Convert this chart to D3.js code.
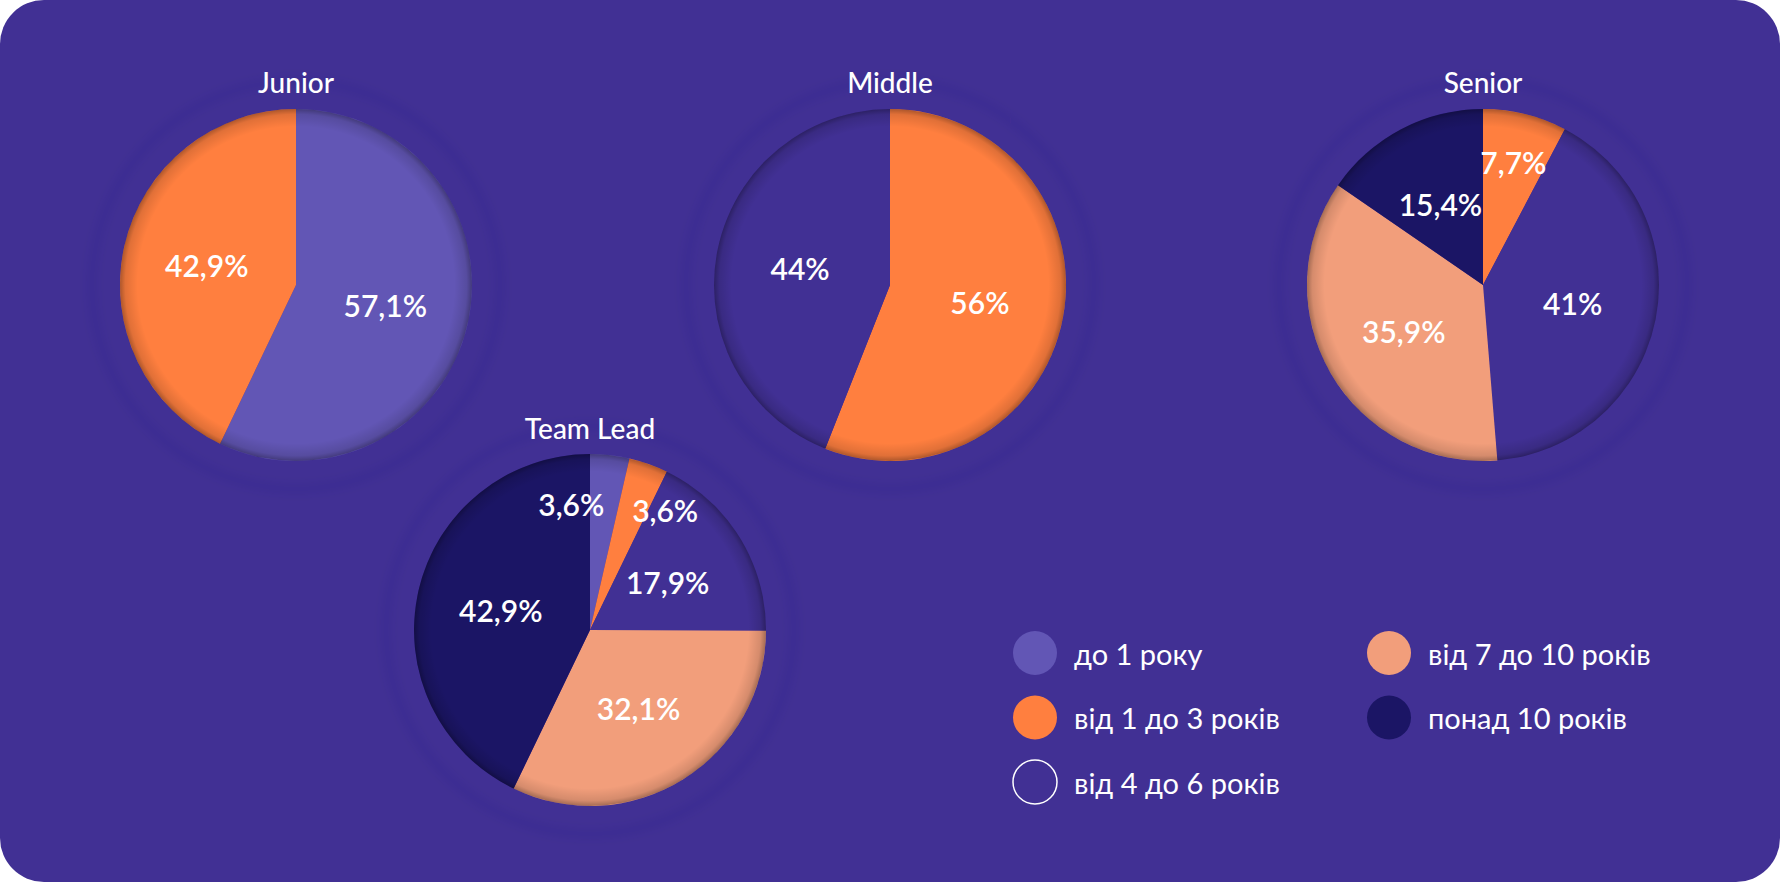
<!DOCTYPE html>
<html>
<head>
<meta charset="utf-8">
<script src="https://cdn.jsdelivr.net/npm/d3@7"></script>
<style>
  body { margin: 0; background: #ffffff; }
  svg { display: block; font-family: "Lato", "Noto Sans", sans-serif; }
</style>
</head>
<body>
<div id="chart"></div>
<script>
// categories (experience) and groups
const categories = ["до 1 року", "від 1 до 3 років", "від 4 до 6 років", "від 7 до 10 років", "понад 10 років"];
const groups = ["Junior", "Middle", "Senior", "Team Lead"];

// shares per group, in category order (percent)
const juniorValues = [57.1, 42.9, 0, 0, 0];
const middleValues = [0, 56, 44, 0, 0];
const seniorValues = [0, 7.7, 41, 35.9, 15.4];
const teamLeadValues = [3.6, 3.6, 17.9, 32.1, 42.9];

const colors = ["#6256b5", "#ff7f3f", "#413094", "#f29e7b", "#1b1565"];
const bg = "#413094";

const W = 1780, H = 882;
const R = 176;

// where each pie sits
const layout = {
    "Junior":    { cx: 296, cy: 285, ty: 82 },
    "Middle":    { cx: 890, cy: 285, ty: 82 },
    "Senior":    { cx: 1483, cy: 285, ty: 82 },
    "Team Lead": { cx: 590, cy: 630, ty: 428 }
};
const valuesByGroup = {
    "Junior": juniorValues,
    "Middle": middleValues,
    "Senior": seniorValues,
    "Team Lead": teamLeadValues
};

const color = d3.scaleOrdinal().domain(categories).range(colors);
const fmt = v => String(v).replace(".", ",") + "%";

const svg = d3.select("#chart").append("svg")
    .attr("width", W)
    .attr("height", H);

const defs = svg.append("defs");

// inner rim shadow for the pies
const rim = defs.append("radialGradient").attr("id", "rim");
rim.append("stop").attr("offset", "0.9").attr("stop-color", "#000").attr("stop-opacity", 0);
rim.append("stop").attr("offset", "0.97").attr("stop-color", "#000").attr("stop-opacity", 0.12);
rim.append("stop").attr("offset", "1").attr("stop-color", "#000").attr("stop-opacity", 0.32);

defs.append("filter").attr("id", "halo").attr("x", "-30%").attr("y", "-30%").attr("width", "160%").attr("height", "160%")
    .append("feGaussianBlur").attr("stdDeviation", 5);

svg.append("rect")
    .attr("width", W)
    .attr("height", H)
    .attr("rx", 44)
    .attr("fill", bg);

const pie = d3.pie().sort(null).value(d => d.value);
const arc = d3.arc().innerRadius(0).outerRadius(R);

groups.forEach(name => {
    const pos = layout[name];
    const data = categories.map((c, i) => ({ cat: c, value: valuesByGroup[name][i] }));
    const arcs = pie(data).filter(d => d.data.value > 0);

    const g = svg.append("g").attr("transform", `translate(${pos.cx},${pos.cy})`);

    // faint halo around each pie
    g.append("circle")
        .attr("r", R + 28)
        .attr("fill", "none")
        .attr("stroke", "#2a1f78")
        .attr("stroke-opacity", 0.14)
        .attr("stroke-width", 5)
        .attr("filter", "url(#halo)");

    g.selectAll("path.slice")
        .data(arcs)
        .join("path")
        .attr("class", "slice")
        .attr("d", arc)
        .attr("fill", d => color(d.data.cat));

    g.append("circle")
        .attr("r", R)
        .attr("fill", "url(#rim)");

    // labels
    const small = arcs.filter(d => d.data.value < 5);
    g.selectAll("text.lbl")
        .data(arcs)
        .join("text")
        .attr("class", "lbl")
        .attr("transform", d => {
            const k = d.data.value < 10 ? 0.72 : 0.52;
            const a = d3.arc().innerRadius(R * k).outerRadius(R * k);
            const [x, y] = a.centroid(d);
            return `translate(${x},${y})`;
        })
        .attr("text-anchor", d => {
            const j = small.indexOf(d);
            if (j < 0) return "middle";
            return j % 2 === 0 ? "end" : "start";
        })
        .attr("dominant-baseline", "central")
        .attr("fill", "#ffffff")
        .style("font-size", "30px")
        .style("font-weight", 600)
        .text(d => fmt(d.data.value));

    svg.append("text")
        .attr("x", pos.cx)
        .attr("y", pos.ty)
        .attr("text-anchor", "middle")
        .attr("dominant-baseline", "central")
        .attr("fill", "#ffffff")
        .style("font-size", "28px")
        .style("font-weight", 500)
        .text(name);
});

// legend: two columns
const legendX = d3.scalePoint().domain([0, 1]).range([1035, 1389]);
const legendY = d3.scalePoint().domain([0, 1, 2]).range([653, 782]);

const legend = svg.append("g").attr("class", "legend");
const item = legend.selectAll("g")
    .data(categories)
    .join("g")
    .attr("transform", (d, i) => `translate(${legendX(i < 3 ? 0 : 1)},${legendY(i < 3 ? i : i - 3)})`);

item.append("circle")
    .attr("r", 22)
    .attr("fill", d => color(d))
    .attr("stroke", (d, i) => i === 2 ? "#ffffff" : "none")
    .attr("stroke-width", 1.5);

item.append("text")
    .attr("x", 39)
    .attr("dominant-baseline", "central")
    .attr("fill", "#ffffff")
    .style("font-size", "29px")
    .style("font-weight", 400)
    .text(d => d);
</script>
</body>
</html>
